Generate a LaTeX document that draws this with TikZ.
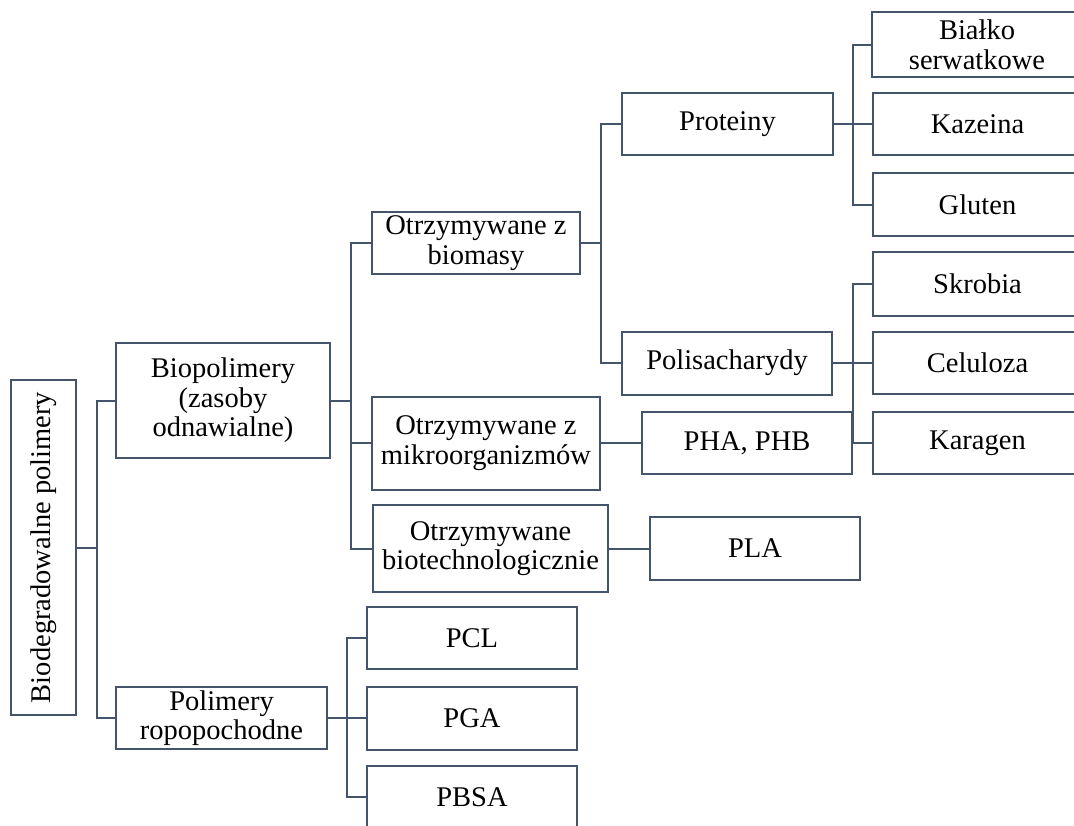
\documentclass[tikz,border=0pt]{standalone}
\usepackage{fontspec}
\setmainfont{Liberation Serif}
\definecolor{linec}{HTML}{44546A}
\begin{document}
\begin{tikzpicture}[x=1pt,y=-1pt,
  box/.style={draw=linec,line width=2pt,rectangle,inner sep=0pt,align=center,
    font=\fontsize{28.5}{29.5}\selectfont,text=black,fill=white},
  conn/.style={draw=linec,line width=2pt}]
\useasboundingbox (0,0) rectangle (1074,825);
\clip (0,0) rectangle (1074,825);
% nodes
\node[box,minimum width=65pt,minimum height=335pt] (root) at (43.5,547.5) {};
\node[rotate=90,font=\fontsize{28.5}{29.5}\selectfont] (roott) at (root.center) {Biodegradowalne polimery};
\node[box,minimum width=214pt,minimum height=115pt] (bio) at (223,400.5) {Biopolimery\\(zasoby\\odnawialne)};
\node[box,minimum width=211pt,minimum height=62pt] (ropo) at (221.5,718) {Polimery\\ropopochodne};
\node[box,minimum width=208pt,minimum height=62pt] (biomasy) at (476,243) {Otrzymywane z\\biomasy};
\node[box,minimum width=228pt,minimum height=93pt] (mikro) at (486,443) {Otrzymywane z\\mikroorganizmów};
\node[box,minimum width=235pt,minimum height=87pt] (biotech) at (490.5,548.5) {Otrzymywane\\biotechnologicznie};
\node[box,minimum width=211pt,minimum height=62pt] (prot) at (727.5,124) {Proteiny};
\node[box,minimum width=210pt,minimum height=63pt] (polis) at (727,363) {Polisacharydy};
\node[box,minimum width=210pt,minimum height=62pt] (pha) at (747,443) {PHA, PHB};
\node[box,minimum width=210pt,minimum height=63pt] (pla) at (755,548.5) {PLA};
\node[box,minimum width=210pt,minimum height=62pt] (pcl) at (472,638) {PCL};
\node[box,minimum width=210pt,minimum height=63pt] (pga) at (472,718) {PGA};
\node[box,minimum width=210pt,minimum height=63pt] (pbsa) at (472,797) {PBSA};
\node[box,minimum width=210pt,minimum height=65pt] (bialko) at (977,44.5) {Białko\\serwatkowe};
\node[box,minimum width=209pt,minimum height=62pt] (kaz) at (977.5,124) {Kazeina};
\node[box,minimum width=209pt,minimum height=63pt] (glu) at (977.5,204.5) {Gluten};
\node[box,minimum width=209pt,minimum height=64pt] (skr) at (977.5,284) {Skrobia};
\node[box,minimum width=209pt,minimum height=62pt] (cel) at (977.5,363) {Celuloza};
\node[box,minimum width=209pt,minimum height=62pt] (kar) at (977.5,443) {Karagen};
% bus x positions
\coordinate (b1) at (97,0);
\coordinate (b2) at (351,0);
\coordinate (b3) at (601,0);
\coordinate (b4) at (853,0);
\coordinate (b5) at (347,0);
% connectors
\draw[conn] (root.east) -- (root.east -| b1);
\draw[conn] (bio.west) -- (bio.west -| b1) |- (ropo.west);
\draw[conn] (bio.east) -- (bio.east -| b2);
\draw[conn] (biomasy.west) -- (biomasy.west -| b2) |- (biotech.west);
\draw[conn] (mikro.west) -- (mikro.west -| b2);
\draw[conn] (biomasy.east) -- (biomasy.east -| b3);
\draw[conn] (prot.west) -- (prot.west -| b3) |- (polis.west);
\draw[conn] (prot.east) -- (kaz.west);
\draw[conn] (bialko.west) -- (bialko.west -| b4) |- (glu.west);
\draw[conn] (polis.east) -- (cel.west);
\draw[conn] (skr.west) -- (skr.west -| b4) |- (kar.west);
\draw[conn] (mikro.east) -- (pha.west);
\draw[conn] (biotech.east) -- (pla.west);
\draw[conn] (ropo.east) -- (pga.west);
\draw[conn] (pcl.west) -- (pcl.west -| b5) |- (pbsa.west);
\end{tikzpicture}
\end{document}
